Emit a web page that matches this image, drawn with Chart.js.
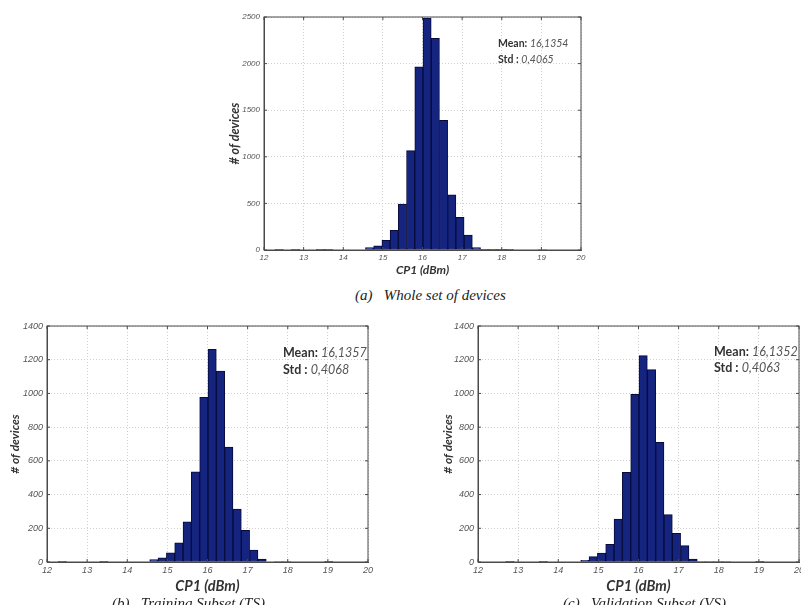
<!DOCTYPE html>
<html>
<head>
<meta charset="utf-8">
<script src="https://cdn.jsdelivr.net/npm/chart.js@4.4.0/dist/chart.umd.min.js"></script>
<style>
  html, body { margin:0; padding:0; background:#fff; width:801px; height:605px; overflow:hidden; position:relative; }
  canvas { position:absolute; }
  .stats { position:absolute; font-family:Lato, 'Open Sans', sans-serif; color:#333; white-space:nowrap; }
  .stats b { font-weight:700; }
  .stats i { color:#555; font-weight:400; }
  .cap { position:absolute; font-family:'Liberation Serif', serif; font-style:italic; font-size:15px; line-height:18px; color:#222; white-space:nowrap; }
</style>
</head>
<body>

<canvas id="histA" width="390" height="285" style="left:200px; top:0px;"></canvas>
<canvas id="histB" width="380" height="300" style="left:0px; top:305px;"></canvas>
<canvas id="histC" width="380" height="300" style="left:430px; top:305px;"></canvas>

<div class="stats" style="left:498px; top:35px; font-size:10.5px; line-height:16.3px;">
  <b>Mean:</b> <i>16,1354</i><br><b>Std :</b> <i>0,4065</i>
</div>
<div class="stats" style="left:283px; top:345px; font-size:12.5px; line-height:16.5px;">
  <b>Mean:</b> <i>16,1357</i><br><b>Std :</b> <i>0,4068</i>
</div>
<div class="stats" style="left:714px; top:344px; font-size:12.5px; line-height:15.5px;">
  <b>Mean:</b> <i>16,1352</i><br><b>Std :</b> <i>0,4063</i>
</div>

<div class="cap" style="left:355px; top:286px;">(a)&nbsp;&nbsp; Whole set of devices</div>
<div class="cap" style="left:112px; top:594px;">(b)&nbsp;&nbsp; Training Subset (TS)</div>
<div class="cap" style="left:563px; top:594px;">(c)&nbsp;&nbsp; Validation Subset (VS)</div>

<script>
// 1. DATA (bin centres in dBm, counts per bin)
const binCenters = [12.381, 12.589, 12.796, 13.004, 13.211, 13.419, 13.626, 13.834, 14.041, 14.249,
                    14.456, 14.664, 14.871, 15.079, 15.286, 15.494, 15.701, 15.909, 16.116, 16.324,
                    16.531, 16.739, 16.946, 17.154, 17.361, 17.569, 17.776, 17.984, 18.191, 18.399,
                    18.606, 18.814, 19.021, 19.229, 19.436, 19.644, 19.851];

const wholeCounts = [4, 0, 3, 0, 0, 3, 4, 0, 0, 0,
                     0, 25, 45, 104, 211, 494, 1067, 1966, 2489, 2271,
                     1390, 591, 351, 161, 25, 4, 3, 4, 3, 0,
                     0, 0, 5, 0, 0, 0, 0];

const trainCounts = [4, 0, 0, 0, 0, 4, 0, 0, 0, 0,
                     0, 14, 24, 55, 113, 239, 535, 977, 1262, 1133,
                     681, 314, 188, 71, 18, 0, 3, 3, 0, 0,
                     0, 0, 4, 0, 0, 0, 0];

const validCounts = [0, 0, 4, 0, 0, 0, 4, 0, 0, 0,
                     0, 10, 32, 53, 105, 255, 532, 995, 1224, 1141,
                     710, 281, 170, 97, 18, 3, 3, 3, 3, 0,
                     0, 0, 4, 0, 0, 0, 0];

const xMin = 12, xMax = 20, xStep = 1;
const xTitle = 'CP1 (dBm)';
const yTitle = '# of devices';

// 2. MATLAB STYLE BOX + INWARD TICKS
const matlabBox = {
    id: 'matlabBox',
    afterDraw(chart) {
        const { ctx, chartArea: a, scales: { x, y } } = chart;
        ctx.save();
        ctx.strokeStyle = '#4a4a4a';
        ctx.lineWidth = 1;
        ctx.strokeRect(a.left, a.top, a.right - a.left, a.bottom - a.top);
        ctx.beginPath();
        x.ticks.forEach(t => {
            const px = x.getPixelForValue(t.value);
            ctx.moveTo(px, a.bottom); ctx.lineTo(px, a.bottom - 3);
            ctx.moveTo(px, a.top); ctx.lineTo(px, a.top + 3);
        });
        y.ticks.forEach(t => {
            const py = y.getPixelForValue(t.value);
            ctx.moveTo(a.left, py); ctx.lineTo(a.left + 3, py);
            ctx.moveTo(a.right, py); ctx.lineTo(a.right - 3, py);
        });
        ctx.stroke();
        ctx.restore();
    }
};

// 3. CHART BUILDER
function makeHist(id, counts, o) {
    const ctx = document.getElementById(id).getContext('2d');
    const tickFont = { family: 'Liberation Sans', size: o.tickSize, style: 'italic' };
    return new Chart(ctx, {
        type: 'bar',
        data: {
            datasets: [{
                data: binCenters.map((c, i) => ({ x: c, y: counts[i] })),
                backgroundColor: '#14247f',
                borderColor: '#070b3a',
                borderWidth: 1,
                borderSkipped: false,
                barPercentage: 1,
                categoryPercentage: 1
            }]
        },
        options: {
            responsive: false,
            animation: false,
            layout: { padding: { left: 0, right: o.padRight, top: o.padTop, bottom: 0 } },
            plugins: { legend: { display: false }, tooltip: { enabled: false } },
            scales: {
                x: {
                    type: 'linear', min: xMin, max: xMax, offset: false,
                    afterFit: s => { s.height = o.xHeight; },
                    ticks: { stepSize: xStep, padding: o.xTickPad, color: '#555', font: tickFont,
                             callback: v => String(v) },
                    grid: { color: '#cfcfcf', drawTicks: false, offset: false },
                    border: { color: '#4a4a4a', dash: [1, 2] },
                    title: { display: true, text: xTitle, color: '#333',
                             padding: { top: 0, bottom: o.xTitlePad },
                             font: { family: 'Lato', size: o.xTitleSize, weight: 'bold', style: 'italic' } }
                },
                y: {
                    min: 0, max: o.yMax,
                    afterFit: s => { s.width = o.yWidth; },
                    ticks: { stepSize: o.yStep, padding: 4, color: '#555', font: tickFont,
                             callback: v => String(v) },
                    grid: { color: '#cfcfcf', drawTicks: false },
                    border: { color: '#4a4a4a', dash: [1, 2] },
                    title: { display: true, text: yTitle, color: '#333',
                             padding: { top: o.yTitlePad, bottom: 0 },
                             font: { family: 'Lato', size: o.yTitleSize, weight: 'bold', style: 'italic' } }
                }
            }
        },
        plugins: [matlabBox]
    });
}

// 4. THE THREE HISTOGRAMS
makeHist('histA', wholeCounts, { yMax: 2500, yStep: 500, padTop: 17, padRight: 9, xHeight: 35, yWidth: 64,
    tickSize: 8, xTickPad: 3, xTitleSize: 12, xTitlePad: 8, yTitleSize: 12.5, yTitlePad: 27 });
makeHist('histB', trainCounts, { yMax: 1400, yStep: 200, padTop: 21, padRight: 12, xHeight: 43, yWidth: 47,
    tickSize: 9, xTickPad: 3, xTitleSize: 14.5, xTitlePad: 10, yTitleSize: 12, yTitlePad: 8 });
makeHist('histC', validCounts, { yMax: 1400, yStep: 200, padTop: 21, padRight: 11, xHeight: 43, yWidth: 48,
    tickSize: 9, xTickPad: 3, xTitleSize: 14.5, xTitlePad: 10, yTitleSize: 12, yTitlePad: 11 });
</script>
</body>
</html>
